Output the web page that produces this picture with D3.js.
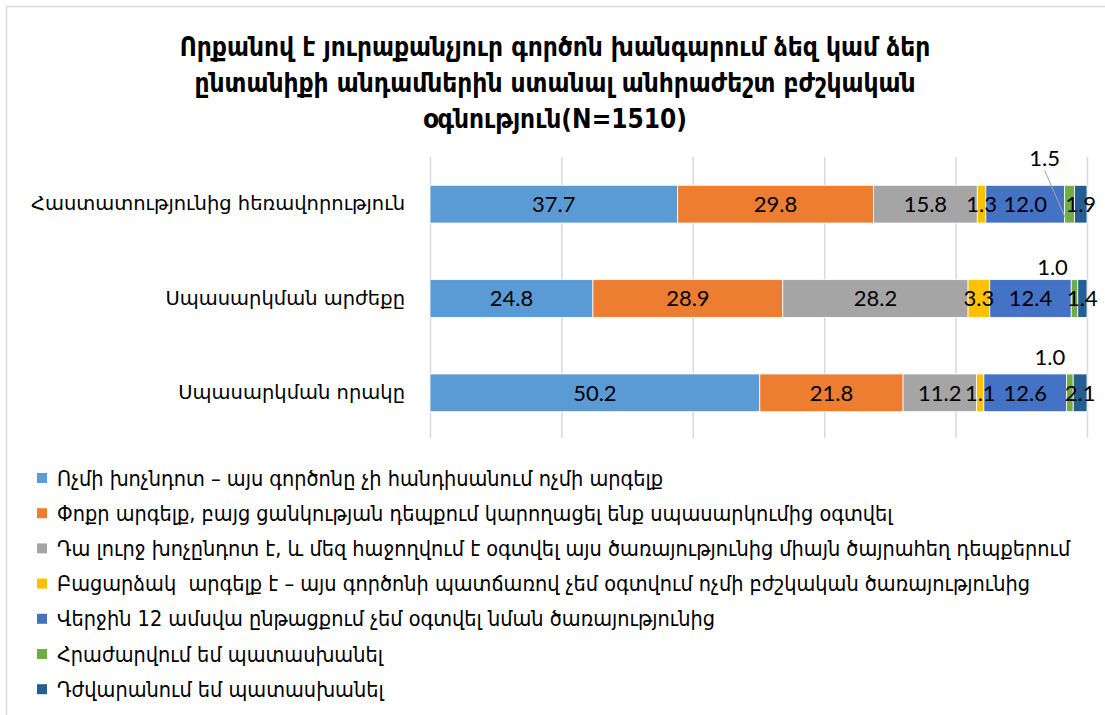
<!DOCTYPE html>
<html><head><meta charset="utf-8">
<script src="https://cdn.jsdelivr.net/npm/d3@7/dist/d3.min.js"></script>
<style>body{margin:0;background:#fff}svg{display:block}</style>
</head><body><svg id="c" width="1105" height="715"></svg>
<script>
const titleLines = [
  "Որքանով է յուրաքանչյուր գործոն խանգարում ձեզ կամ ձեր",
  "ընտանիքի անդամներին ստանալ անհրաժեշտ բժշկական",
  "օգնություն(N=1510)"
];
const categories = [
  "Հաստատությունից հեռավորություն",
  "Սպասարկման արժեքը",
  "Սպասարկման որակը"
];
const seriesNames = [
  "Ոչմի խոչնդոտ – այս գործոնը չի հանդիսանում ոչմի արգելք",
  "Փոքր արգելք, բայց ցանկության դեպքում կարողացել ենք սպասարկումից օգտվել",
  "Դա լուրջ խոչընդոտ է, և մեզ հաջողվում է օգտվել այս ծառայությունից միայն ծայրահեղ դեպքերում",
  "Բացարձակ  արգելք է – այս գործոնի պատճառով չեմ օգտվում ոչմի բժշկական ծառայությունից",
  "Վերջին 12 ամսվա ընթացքում չեմ օգտվել նման ծառայությունից",
  "Հրաժարվում եմ պատասխանել",
  "Դժվարանում եմ պատասխանել"
];
const seriesColors = ["#5B9BD5","#ED7D31","#A5A5A5","#FFC000","#4472C4","#70AD47","#255E91"];
const noObstacle   = [37.7, 24.8, 50.2];
const smallObst    = [29.8, 28.9, 21.8];
const seriousObst  = [15.8, 28.2, 11.2];
const absoluteObst = [1.3, 3.3, 1.1];
const notUsed      = [12.0, 12.4, 12.6];
const refused      = [1.5, 1.0, 1.0];
const difficult    = [1.9, 1.4, 2.1];
const xTicks = [0, 20, 40, 60, 80, 100];

const seriesValues = [noObstacle, smallObst, seriousObst, absoluteObst, notUsed, refused, difficult];
const rows = categories.map((c, i) => {
  const r = {cat: c};
  seriesValues.forEach((s, j) => r["s" + j] = s[i]);
  return r;
});
const keys = seriesValues.map((_, j) => "s" + j);
const stacked = d3.stack().keys(keys)(rows);

// callout placements for the "refused" series (label offset from segment centre)
const callouts = [{dx: -25, dy: -46, leader: true}, {dx: -22, dy: -31, leader: false}, {dx: -20, dy: -36, leader: false}];

const svg = d3.select("#c");
const W = 1105, H = 715;

svg.append("rect").attr("x", 6.5).attr("y", 6.5).attr("width", W + 10).attr("height", H + 10)
  .attr("fill", "#fff").attr("stroke", "#d9d9d9").attr("stroke-width", 1.5);

// title
svg.append("g").selectAll("text").data(titleLines).join("text")
  .attr("x", 555).attr("y", (d, i) => 56 + i * 36)
  .attr("text-anchor", "middle")
  .attr("font-family", "'DejaVu Sans Condensed', 'DejaVu Sans', sans-serif")
  .attr("font-weight", "bold").attr("font-size", 26).attr("fill", "#000")
  .text(d => d);

const x = d3.scaleLinear().domain([0, 100]).range([430, 1087]);
const y = d3.scaleBand().domain(categories).range([157, 440]).paddingInner(0.6).paddingOuter(0.3);

// gridlines
svg.append("g").attr("transform", "translate(0,157)")
  .call(d3.axisBottom(x).tickValues(xTicks).tickSize(281).tickFormat(""))
  .call(g => g.select(".domain").remove())
  .call(g => g.selectAll(".tick line").attr("stroke", "#d9d9d9").attr("stroke-width", 1.5));

// category axis
svg.append("g").attr("transform", "translate(405,0)")
  .call(d3.axisLeft(y).tickSize(0).tickPadding(0))
  .call(g => g.select(".domain").remove())
  .call(g => g.selectAll("text").attr("font-family", "'DejaVu Sans', sans-serif")
    .attr("font-size", 19.5).attr("fill", "#000"));

// bars
const layer = svg.append("g").selectAll("g").data(stacked).join("g")
  .attr("fill", (d, i) => seriesColors[i]);
layer.selectAll("rect").data(d => d).join("rect")
  .attr("x", d => x(d[0])).attr("width", d => x(d[1]) - x(d[0]))
  .attr("y", d => y(d.data.cat)).attr("height", y.bandwidth())
  .attr("stroke", "#fff").attr("stroke-width", 0.8);

// labels
const fmt = d3.format(".1f");
const labelFont = "Lato, 'Liberation Sans', sans-serif";
stacked.forEach((s, si) => {
  s.forEach((d, ci) => {
    const cx = (x(d[0]) + x(d[1])) / 2;
    const cy = y(d.data.cat) + y.bandwidth() / 2;
    const val = d[1] - d[0];
    if (si === 5) {
      const c = callouts[ci];
      if (c.leader) {
        svg.append("line").attr("x1", cx + c.dx).attr("y1", cy + c.dy + 12)
          .attr("x2", cx - 2).attr("y2", cy + y.bandwidth() / 2)
          .attr("stroke", "#a6a6a6").attr("stroke-width", 1);
      }
      svg.append("text").attr("x", cx + c.dx).attr("y", cy + c.dy)
        .attr("text-anchor", "middle").attr("dy", "0.36em")
        .attr("font-family", labelFont).attr("font-size", 22).attr("fill", "#000")
        .text(fmt(val));
    } else {
      svg.append("text").attr("x", cx).attr("y", cy)
        .attr("text-anchor", "middle").attr("dy", "0.36em")
        .attr("font-family", labelFont).attr("font-size", 22).attr("fill", "#000")
        .text(fmt(val));
    }
  });
});

// legend
const lg = svg.append("g").selectAll("g").data(seriesNames).join("g")
  .attr("transform", (d, i) => `translate(37,${478 + i * 35.2})`);
lg.append("rect").attr("x", 0).attr("y", -5).attr("width", 10).attr("height", 10)
  .attr("fill", (d, i) => seriesColors[i]);
lg.append("text").attr("x", 20).attr("dy", "0.35em")
  .attr("font-family", "'DejaVu Sans Condensed', 'DejaVu Sans', sans-serif")
  .attr("font-size", 21.5).attr("fill", "#000").attr("xml:space", "preserve")
  .style("white-space", "pre")
  .text(d => d);
</script></body></html>
